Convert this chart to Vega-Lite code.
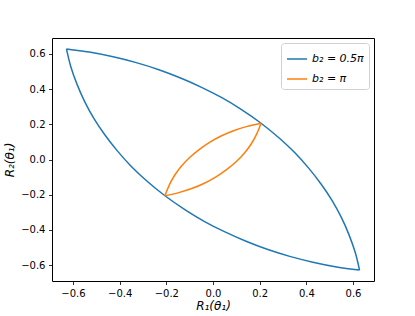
{
  "$schema": "https://vega.github.io/schema/vega-lite/v6.json",
  "width": 322,
  "height": 243,
  "autosize": "none",
  "padding": {"left": 52, "top": 38, "right": 41, "bottom": 35},
  "background": "white",
  "config": {
    "font": "DejaVu Sans",
    "view": {"stroke": "black", "strokeWidth": 1},
    "axis": {
      "grid": false,
      "domain": false,
      "tickColor": "black",
      "tickSize": 3.5,
      "tickWidth": 0.8,
      "labelFontSize": 10,
      "labelColor": "black",
      "labelPadding": 3.5,
      "titleFontSize": 12,
      "titleFontWeight": "normal",
      "titleColor": "black",
      "titleFontStyle": "italic"
    }
  },
  "data": {
    "values": [
      {"s": "b₂ = 0.5π", "arc": "b1", "o": 0, "x": -0.628, "y": 0.628},
      {"s": "b₂ = 0.5π", "arc": "b1", "o": 1, "x": -0.530, "y": 0.610},
      {"s": "b₂ = 0.5π", "arc": "b1", "o": 2, "x": -0.428, "y": 0.583},
      {"s": "b₂ = 0.5π", "arc": "b1", "o": 3, "x": -0.329, "y": 0.550},
      {"s": "b₂ = 0.5π", "arc": "b1", "o": 4, "x": -0.232, "y": 0.510},
      {"s": "b₂ = 0.5π", "arc": "b1", "o": 5, "x": -0.139, "y": 0.463},
      {"s": "b₂ = 0.5π", "arc": "b1", "o": 6, "x": -0.049, "y": 0.410},
      {"s": "b₂ = 0.5π", "arc": "b1", "o": 7, "x": 0.038, "y": 0.351},
      {"s": "b₂ = 0.5π", "arc": "b1", "o": 8, "x": 0.119, "y": 0.286},
      {"s": "b₂ = 0.5π", "arc": "b1", "o": 9, "x": 0.206, "y": 0.206},
      {"s": "b₂ = 0.5π", "arc": "b1", "o": 10, "x": 0.286, "y": 0.119},
      {"s": "b₂ = 0.5π", "arc": "b1", "o": 11, "x": 0.351, "y": 0.038},
      {"s": "b₂ = 0.5π", "arc": "b1", "o": 12, "x": 0.410, "y": -0.049},
      {"s": "b₂ = 0.5π", "arc": "b1", "o": 13, "x": 0.463, "y": -0.139},
      {"s": "b₂ = 0.5π", "arc": "b1", "o": 14, "x": 0.510, "y": -0.232},
      {"s": "b₂ = 0.5π", "arc": "b1", "o": 15, "x": 0.550, "y": -0.329},
      {"s": "b₂ = 0.5π", "arc": "b1", "o": 16, "x": 0.583, "y": -0.428},
      {"s": "b₂ = 0.5π", "arc": "b1", "o": 17, "x": 0.610, "y": -0.530},
      {"s": "b₂ = 0.5π", "arc": "b1", "o": 18, "x": 0.628, "y": -0.628},
      {"s": "b₂ = 0.5π", "arc": "b2", "o": 18, "x": 0.628, "y": -0.628},
      {"s": "b₂ = 0.5π", "arc": "b2", "o": 19, "x": 0.530, "y": -0.610},
      {"s": "b₂ = 0.5π", "arc": "b2", "o": 20, "x": 0.428, "y": -0.583},
      {"s": "b₂ = 0.5π", "arc": "b2", "o": 21, "x": 0.329, "y": -0.550},
      {"s": "b₂ = 0.5π", "arc": "b2", "o": 22, "x": 0.232, "y": -0.510},
      {"s": "b₂ = 0.5π", "arc": "b2", "o": 23, "x": 0.139, "y": -0.463},
      {"s": "b₂ = 0.5π", "arc": "b2", "o": 24, "x": 0.049, "y": -0.410},
      {"s": "b₂ = 0.5π", "arc": "b2", "o": 25, "x": -0.038, "y": -0.351},
      {"s": "b₂ = 0.5π", "arc": "b2", "o": 26, "x": -0.119, "y": -0.286},
      {"s": "b₂ = 0.5π", "arc": "b2", "o": 27, "x": -0.206, "y": -0.206},
      {"s": "b₂ = 0.5π", "arc": "b2", "o": 28, "x": -0.286, "y": -0.119},
      {"s": "b₂ = 0.5π", "arc": "b2", "o": 29, "x": -0.351, "y": -0.038},
      {"s": "b₂ = 0.5π", "arc": "b2", "o": 30, "x": -0.410, "y": 0.049},
      {"s": "b₂ = 0.5π", "arc": "b2", "o": 31, "x": -0.463, "y": 0.139},
      {"s": "b₂ = 0.5π", "arc": "b2", "o": 32, "x": -0.510, "y": 0.232},
      {"s": "b₂ = 0.5π", "arc": "b2", "o": 33, "x": -0.550, "y": 0.329},
      {"s": "b₂ = 0.5π", "arc": "b2", "o": 34, "x": -0.583, "y": 0.428},
      {"s": "b₂ = 0.5π", "arc": "b2", "o": 35, "x": -0.610, "y": 0.530},
      {"s": "b₂ = 0.5π", "arc": "b2", "o": 36, "x": -0.628, "y": 0.628},
      {"s": "b₂ = π", "arc": "o1", "o": 0, "x": -0.206, "y": -0.206},
      {"s": "b₂ = π", "arc": "o1", "o": 1, "x": -0.188, "y": -0.147},
      {"s": "b₂ = π", "arc": "o1", "o": 2, "x": -0.165, "y": -0.091},
      {"s": "b₂ = π", "arc": "o1", "o": 3, "x": -0.135, "y": -0.037},
      {"s": "b₂ = π", "arc": "o1", "o": 4, "x": -0.099, "y": 0.013},
      {"s": "b₂ = π", "arc": "o1", "o": 5, "x": -0.058, "y": 0.058},
      {"s": "b₂ = π", "arc": "o1", "o": 6, "x": -0.013, "y": 0.099},
      {"s": "b₂ = π", "arc": "o1", "o": 7, "x": 0.037, "y": 0.135},
      {"s": "b₂ = π", "arc": "o1", "o": 8, "x": 0.091, "y": 0.165},
      {"s": "b₂ = π", "arc": "o1", "o": 9, "x": 0.147, "y": 0.188},
      {"s": "b₂ = π", "arc": "o1", "o": 10, "x": 0.206, "y": 0.206},
      {"s": "b₂ = π", "arc": "o2", "o": 10, "x": 0.206, "y": 0.206},
      {"s": "b₂ = π", "arc": "o2", "o": 11, "x": 0.188, "y": 0.147},
      {"s": "b₂ = π", "arc": "o2", "o": 12, "x": 0.165, "y": 0.091},
      {"s": "b₂ = π", "arc": "o2", "o": 13, "x": 0.135, "y": 0.037},
      {"s": "b₂ = π", "arc": "o2", "o": 14, "x": 0.099, "y": -0.013},
      {"s": "b₂ = π", "arc": "o2", "o": 15, "x": 0.058, "y": -0.058},
      {"s": "b₂ = π", "arc": "o2", "o": 16, "x": 0.013, "y": -0.099},
      {"s": "b₂ = π", "arc": "o2", "o": 17, "x": -0.037, "y": -0.135},
      {"s": "b₂ = π", "arc": "o2", "o": 18, "x": -0.091, "y": -0.165},
      {"s": "b₂ = π", "arc": "o2", "o": 19, "x": -0.147, "y": -0.188},
      {"s": "b₂ = π", "arc": "o2", "o": 20, "x": -0.206, "y": -0.206}
    ]
  },
  "mark": {"type": "line", "strokeWidth": 1.5, "interpolate": "catmull-rom", "clip": true},
  "encoding": {
    "x": {
      "field": "x", "type": "quantitative",
      "scale": {"domain": [-0.69, 0.69], "nice": false, "zero": false},
      "axis": {"values": [-0.6, -0.4, -0.2, 0, 0.2, 0.4, 0.6], "format": ".1f", "title": "R₁(θ₁)", "titlePadding": 2}
    },
    "y": {
      "field": "y", "type": "quantitative",
      "scale": {"domain": [-0.69, 0.69], "nice": false, "zero": false},
      "axis": {"values": [-0.6, -0.4, -0.2, 0, 0.2, 0.4, 0.6], "format": ".1f", "title": "R₂(θ₁)", "titlePadding": 4}
    },
    "order": {"field": "o", "type": "quantitative"},
    "detail": {"field": "arc", "type": "nominal"},
    "color": {
      "field": "s", "type": "nominal",
      "scale": {"domain": ["b₂ = 0.5π", "b₂ = π"], "range": ["#1f77b4", "#ff7f0e"]},
      "legend": {
        "title": null,
        "orient": "top-right",
        "offset": 5,
        "symbolType": "stroke",
        "symbolSize": 400,
        "symbolStrokeWidth": 1.5,
        "labelFontSize": 11,
        "labelFontStyle": "italic",
        "labelColor": "black",
        "fillColor": "white",
        "strokeColor": "#d0d0d0",
        "cornerRadius": 3,
        "padding": 5,
        "rowPadding": 4
      }
    }
  }
}
